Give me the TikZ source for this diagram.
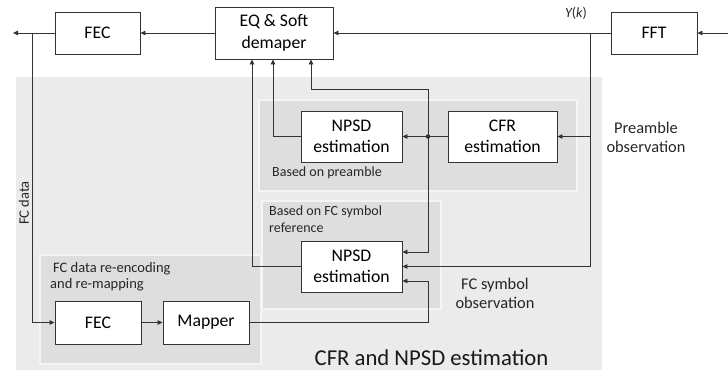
\documentclass[tikz,border=0pt]{standalone}
\usepackage{fontspec}
\setmainfont{Carlito}
\usetikzlibrary{arrows.meta}
\begin{document}
\begin{tikzpicture}[x=1pt,y=-1pt,
  ln/.style={draw=black!80,line width=0.8pt},
  arr/.style={ln,-{Triangle[length=5pt,width=4.5pt]}},
  blk/.style={draw=black!80,fill=white,line width=0.9pt,inner sep=0pt,align=center,
              font=\fontsize{17.7}{21.5}\selectfont},
  panel/.style={fill=black!13,draw=black!4,line width=2pt},
  lbl/.style={inner sep=0pt,align=left,font=\fontsize{14}{16.5}\selectfont,text=black!85},
  obs/.style={inner sep=0pt,align=center,font=\fontsize{16.4}{19}\selectfont,text=black!85}]
\useasboundingbox (0,0) rectangle (728,371);
% background regions
\path[fill=black!8] (16,77) rectangle (602,370);
\path[panel] (259,100) rectangle (577,191);
\path[panel] (262,201) rectangle (441,309);
\path[panel] (40,255) rectangle (261,364);
% blocks
\node[blk,minimum width=85pt,minimum height=42pt] (fec1) at (97.5,33) {FEC};
\node[blk,minimum width=118pt,minimum height=52pt] (eq) at (274,33) {EQ \& Soft\\demaper};
\node[blk,minimum width=86pt,minimum height=42pt] (fft) at (654,33) {FFT};
\node[blk,minimum width=101pt,minimum height=51pt] (npsd1) at (351.5,136.5) {NPSD\\estimation};
\node[blk,minimum width=109pt,minimum height=51pt] (cfr) at (502.5,136.5) {CFR\\estimation};
\node[blk,minimum width=101pt,minimum height=51pt] (npsd2) at (351.5,266.5) {NPSD\\estimation};
\node[blk,minimum width=86pt,minimum height=43pt] (fec2) at (98,322.5) {FEC};
\node[blk,minimum width=86pt,minimum height=43pt] (mapper) at (206,322.5) {Mapper};
\node[circle,fill=black!85,inner sep=0pt,minimum size=4.5pt] (dot) at (428,136.5) {};
% coordinates
\coordinate (out) at (13,33);
\coordinate (in) at (728,33);
\coordinate (jY) at (590,33);
\coordinate (jL) at (32,33);
\coordinate (x311) at (311,0);
\coordinate (x273) at (273,0);
\coordinate (x252) at (252,0);
\coordinate (c89) at (428,89);
\coordinate (c322) at (428,322.5);
% connectors
\draw[arr] (in) -- (fft.east);
\draw[arr] (fft.west) -- (eq.east);
\draw[arr] (eq.west) -- (fec1.east);
\draw[arr] (fec1.west) -- (out);
\draw[arr] (jY) |- (npsd2.east);
\draw[arr] (jY |- cfr.east) -- (cfr.east);
\draw[arr] (cfr.west) -- (npsd1.east);
\draw[arr] (dot.center) -- (c89) -| (eq.south -| x311);
\draw[arr] (dot.center) |- ([yshift=14.5pt]npsd2.east);
\draw[arr] (npsd1.west) -| (eq.south -| x273);
\draw[arr] (npsd2.west) -| (eq.south -| x252);
\draw[arr] (jL) |- (fec2.west);
\draw[arr] (fec2.east) -- (mapper.west);
\draw[arr] (mapper.east) -- (c322) |- ([yshift=-14.5pt]npsd2.east);
% labels
\node[inner sep=0pt,font=\fontsize{14}{16}\selectfont,text=black!85] (yk) at (576,13) {\itshape Y\upshape(\itshape k\upshape)};
\node[lbl,anchor=west] (bp) at (272,173) {Based on preamble};
\node[lbl,anchor=north west] (bfc) at (269,206) {Based on FC symbol\\reference};
\node[obs] (po) at (646,137) {Preamble\\observation};
\node[obs] (fo) at (495,293) {FC symbol\\observation};
\node[lbl,anchor=north west,font=\fontsize{14.5}{16.5}\selectfont] (fcr) at (50,262) {\hspace*{3pt}FC data re-encoding\\and re-mapping};
\node[inner sep=0pt,font=\fontsize{22.7}{26}\selectfont,text=black!90] (title) at (431.5,358) {CFR and NPSD estimation};
\node[inner sep=0pt,rotate=90,font=\fontsize{14.5}{16}\selectfont,text=black!85] (fcd) at (24,203) {FC data};
\end{tikzpicture}
\end{document}
